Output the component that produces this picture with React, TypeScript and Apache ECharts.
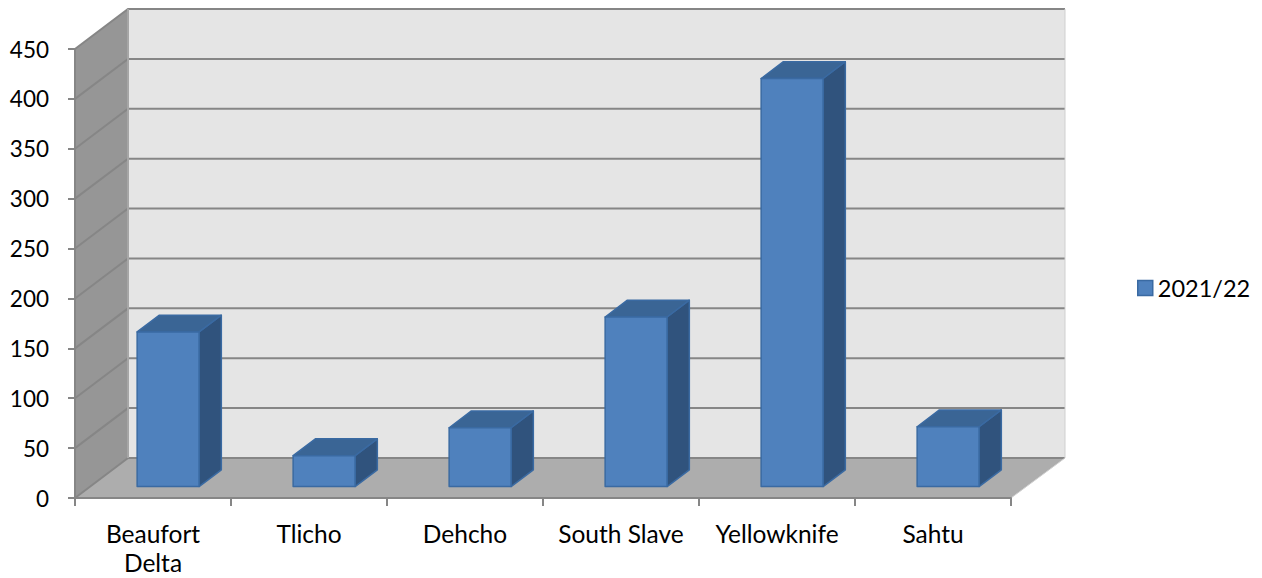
import React, { useEffect, useRef } from "react";
import * as echarts from "echarts";

const categories = ["Beaufort\nDelta", "Tlicho", "Dehcho", "South Slave", "Yellowknife", "Sahtu"];
const seriesName = "2021/22";
const values = [155, 31, 59, 170, 409, 60];
const yTicks = [0, 50, 100, 150, 200, 250, 300, 350, 400, 450];

// Oblique projection of the chart box: how far the back wall sits from the front plane.
const BOX_DX = 53;
const BOX_DY = -40;
// Bars stand part of the way into the box and are this deep.
const BAR_START = 0.285;
const BAR_DEPTH = 0.42;
const BAR_WIDTH = 0.397;

const GRID_COLOR = "#868686";
const FONT = "Lato";

function renderBox(_params: any, api: any) {
  const band = api.size([1, 0])[0];
  const [x0Center, y0] = api.coord([0, 0]);
  const x0 = x0Center - band / 2;
  const x1 = x0 + band * categories.length;
  const yTop = api.coord([0, yTicks[yTicks.length - 1]])[1];
  const bx0 = x0 + BOX_DX;
  const bx1 = x1 + BOX_DX + 1;
  const by0 = y0 + BOX_DY;
  const byTop = yTop + BOX_DY;
  const children: any[] = [
    {
      type: "polygon",
      shape: { points: [[bx0, byTop], [bx1, byTop], [bx1, by0], [bx0, by0]] },
      style: { fill: "#e5e5e5" },
    },
    {
      type: "polygon",
      shape: { points: [[x0, yTop], [bx0, byTop], [bx0, by0], [x0, y0]] },
      style: { fill: "#969696" },
    },
    {
      type: "polygon",
      shape: { points: [[x0, y0], [bx0, by0], [bx1, by0], [x1, y0]] },
      style: { fill: "#adadad" },
    },
  ];
  yTicks.forEach((t) => {
    const y = api.coord([0, t])[1];
    children.push({
      type: "polyline",
      shape: { points: [[x0, y], [bx0, y + BOX_DY], [bx1, y + BOX_DY]] },
      style: { fill: "none", stroke: GRID_COLOR, lineWidth: 2 },
    });
  });
  children.push({
    type: "line",
    shape: { x1: bx0, y1: byTop, x2: bx0, y2: by0 },
    style: { stroke: "#a6a6a6", lineWidth: 2 },
  });
  children.push({
    type: "polyline",
    shape: { points: [[x1, y0], [bx1, by0], [bx1, byTop]] },
    style: { fill: "none", stroke: "#cfcfcf", lineWidth: 1 },
  });
  return { type: "group", children };
}

function renderBar(_params: any, api: any) {
  const band = api.size([1, 0])[0];
  const base = api.coord([api.value(0), 0]);
  const top = api.coord([api.value(0), api.value(1)]);
  const offX = BOX_DX * BAR_START;
  const offY = BOX_DY * BAR_START;
  const w = band * BAR_WIDTH;
  const l = base[0] + offX - w / 2;
  const r = l + w;
  const b = base[1] + offY;
  const t = top[1] + offY;
  const dx = BOX_DX * BAR_DEPTH;
  const dy = BOX_DY * BAR_DEPTH;
  const edge = { stroke: "#3a6aa2", lineWidth: 1.5, lineJoin: "round" };
  return {
    type: "group",
    children: [
      {
        type: "polygon",
        shape: { points: [[r, b], [r + dx, b + dy], [r + dx, t + dy], [r, t]] },
        style: { fill: "#30537d", ...edge },
      },
      {
        type: "polygon",
        shape: { points: [[l, t], [l + dx, t + dy], [r + dx, t + dy], [r, t]] },
        style: { fill: "#3a6595", ...edge },
      },
      {
        type: "rect",
        shape: { x: l, y: t, width: w, height: b - t },
        style: { fill: "#4f81bd", ...edge },
      },
    ],
  };
}

export default function App() {
  const ref = useRef<HTMLDivElement>(null);

  useEffect(() => {
    const chart = echarts.init(ref.current!, undefined, { renderer: "svg" });
    chart.setOption({
      animation: false,
      backgroundColor: "#ffffff",
      grid: { left: 75, top: 49, width: 936, height: 449, containLabel: false, outerBoundsMode: "none" },
      legend: {
        data: [seriesName],
        orient: "vertical",
        left: 1132,
        top: 271,
        itemWidth: 15,
        itemHeight: 15,
        itemGap: 0,
        icon: "rect",
        itemStyle: { borderColor: "#3a6aa2", borderWidth: 1.5 },
        textStyle: { fontFamily: FONT, fontSize: 23.5, color: "#000000" },
      },
      xAxis: {
        type: "category",
        data: categories,
        z: 5,
        axisLine: { lineStyle: { color: GRID_COLOR, width: 2 } },
        axisTick: { show: true, alignWithLabel: false, length: 8, lineStyle: { color: GRID_COLOR, width: 2 } },
        axisLabel: {
          interval: 0,
          margin: 21,
          fontFamily: FONT,
          fontSize: 24.5,
          color: "#000000",
          lineHeight: 29,
        },
      },
      yAxis: {
        type: "value",
        min: 0,
        max: 450,
        interval: 50,
        z: 5,
        axisLine: { show: true, lineStyle: { color: GRID_COLOR, width: 2 } },
        axisTick: { show: true, length: 7, lineStyle: { color: GRID_COLOR, width: 2 } },
        splitLine: { show: false },
        axisLabel: { margin: 26, fontFamily: FONT, fontSize: 22.5, color: "#000000" },
      },
      series: [
        {
          name: "box",
          type: "custom",
          silent: true,
          z: 1,
          clip: false,
          renderItem: renderBox,
          data: [[0, 0]],
          encode: { x: 0, y: 1 },
        },
        {
          name: seriesName,
          type: "custom",
          z: 6,
          clip: false,
          itemStyle: { color: "#4f81bd" },
          renderItem: renderBar,
          data: values.map((v, i) => [i, v]),
          encode: { x: 0, y: 1 },
        },
      ],
    });
    return () => chart.dispose();
  }, []);

  return <div ref={ref} style={{ position: "absolute", left: 0, top: 0, width: 1262, height: 578 }} />;
}
